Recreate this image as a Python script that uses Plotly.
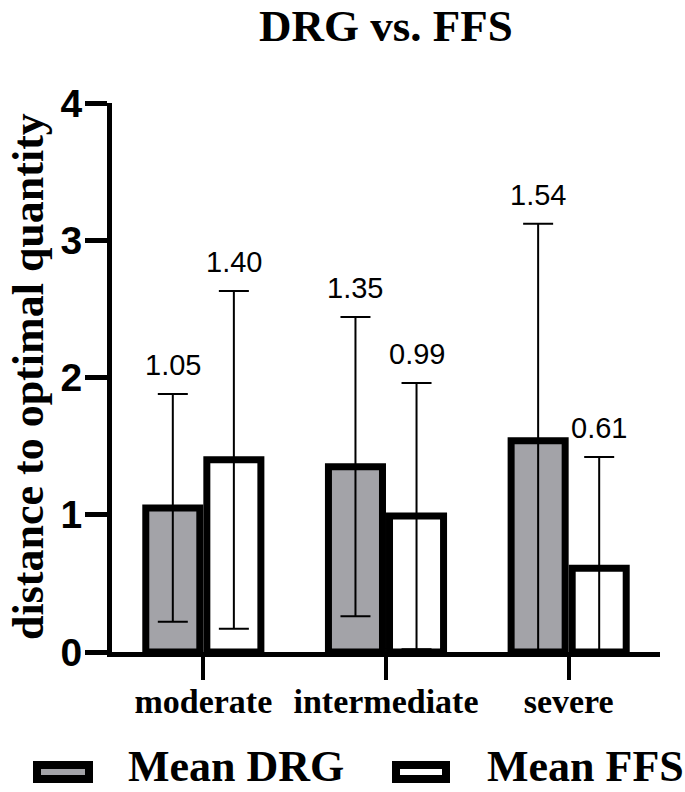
import plotly.graph_objects as go

categories = ["moderate", "intermediate", "severe"]
drg_mean = [1.05, 1.35, 1.54]
ffs_mean = [1.40, 0.99, 0.61]
drg_sd = [0.83, 1.09, 1.58]
ffs_sd = [1.23, 0.97, 0.81]
series_names = ["Mean DRG", "Mean FFS"]
y_ticks = [0, 1, 2, 3, 4]
y_title = "distance to optimal quantity"
chart_title = "DRG vs. FFS"

SERIF = "Times New Roman, Liberation Serif, serif"
SANS = "Arial, Liberation Sans, sans-serif"
GRAY = "#a3a3a8"

W, H = 685, 792
L, R, T, B = 112, 25, 103, 140
PW = W - L - R
PH = H - T - B
BARGAP = 0.3315


def px_x(x):
    return (x - L) / PW


def px_y(y):
    return (H - B - y) / PH


fig = go.Figure()
fills = [GRAY, "white"]
for name, means, sds, fill in zip(series_names, [drg_mean, ffs_mean], [drg_sd, ffs_sd], fills):
    fig.add_trace(go.Bar(
        x=categories, y=means, name=name,
        marker=dict(color=fill, line=dict(color="black", width=7)),
        error_y=dict(type="data", array=sds, visible=True, color="black",
                     thickness=2, width=15),
        showlegend=False,
    ))

# value labels above the error bars
offset = (1 - BARGAP) / 4
for k, (means, sds) in enumerate([(drg_mean, drg_sd), (ffs_mean, ffs_sd)]):
    sign = -1 if k == 0 else 1
    for i, (m, s) in enumerate(zip(means, sds)):
        fig.add_annotation(
            x=i + sign * offset, y=m + s, xref="x", yref="y",
            text=f"{m:.2f}", showarrow=False, yanchor="bottom", yshift=11,
            font=dict(family=SANS, size=29, color="black"),
        )

# y-axis title
fig.add_annotation(x=px_x(28), y=px_y(377), xref="paper", yref="paper",
                   text=f"<b>{y_title}</b>", textangle=-90, showarrow=False,
                   xanchor="center", yanchor="middle",
                   font=dict(family=SERIF, size=44, color="black"))

# custom legend
legend_items = [
    (series_names[0], GRAY, 37, 89, 126),
    (series_names[1], "white", 396, 446, 485),
]
for name, fill, x0, x1, tx in legend_items:
    fig.add_shape(type="rect", xref="paper", yref="paper",
                  x0=px_x(x0), x1=px_x(x1), y0=px_y(765), y1=px_y(779),
                  fillcolor=fill, line=dict(color="black", width=8))
    fig.add_annotation(x=px_x(tx), y=px_y(766), xref="paper", yref="paper",
                       text=f"<b>{name}</b>", showarrow=False,
                       xanchor="left", yanchor="middle",
                       font=dict(family=SERIF, size=44, color="black"))

fig.update_layout(
    width=W, height=H,
    margin=dict(l=L, r=R, t=T, b=B, autoexpand=False),
    paper_bgcolor="white", plot_bgcolor="white",
    barmode="group", bargap=BARGAP, bargroupgap=0.115,
    title=dict(text=f"<b>{chart_title}</b>", x=0.5, xref="paper",
               y=1 - 25 / H, yref="container", yanchor="middle",
               font=dict(family=SERIF, size=45, color="black")),
    xaxis=dict(
        automargin=False,
        showline=True, linecolor="black", linewidth=5,
        ticks="outside", ticklen=23, tickwidth=4, tickcolor="black",
        tickfont=dict(family=SERIF, size=34, color="black", weight="bold"),
        ticklabelstandoff=-8, showgrid=False, zeroline=False,
        range=[-0.5, 2.5],
    ),
    yaxis=dict(
        automargin=False,
        range=[0, 4], tickvals=y_ticks,
        showline=True, linecolor="black", linewidth=5,
        ticks="outside", ticklen=22, tickwidth=5, tickcolor="black",
        tickfont=dict(family=SANS, size=39, color="black", weight="bold"),
        ticklabelstandoff=-5, showgrid=False, zeroline=False,
    ),
)

fig.write_html("out.html", config={"displayModeBar": False},
               post_script="document.body.style.margin='0';")
